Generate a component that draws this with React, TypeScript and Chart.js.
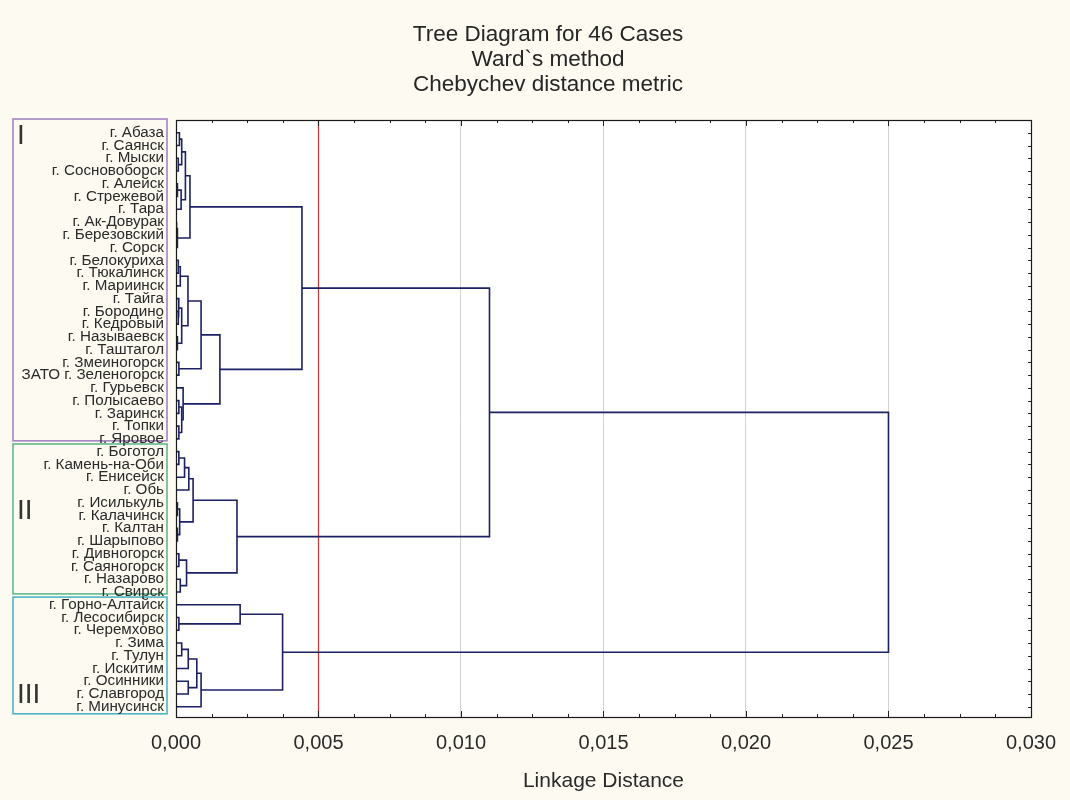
import { useEffect, useRef } from "react";
import { Chart, registerables } from "chart.js";

Chart.register(...registerables);

// ---------------- data ----------------
const chartTitle = ["Tree Diagram for 46 Cases", "Ward`s method", "Chebychev distance metric"];
const axisTitle = "Linkage Distance";

const leafLabels = [
  "г. Абаза", "г. Саянск", "г. Мыски", "г. Сосновоборск", "г. Алейск", "г. Стрежевой",
  "г. Тара", "г. Ак-Довурак", "г. Березовский", "г. Сорск", "г. Белокуриха", "г. Тюкалинск",
  "г. Мариинск", "г. Тайга", "г. Бородино", "г. Кедровый", "г. Называевск", "г. Таштагол",
  "г. Змеиногорск", "ЗАТО г. Зеленогорск", "г. Гурьевск", "г. Полысаево", "г. Заринск",
  "г. Топки", "г. Яровое",
  "г. Боготол", "г. Камень-на-Оби", "г. Енисейск", "г. Обь", "г. Исилькуль", "г. Калачинск",
  "г. Калтан", "г. Шарыпово", "г. Дивногорск", "г. Саяногорск", "г. Назарово", "г. Свирск",
  "г. Горно-Алтайск", "г. Лесосибирск", "г. Черемхово", "г. Зима", "г. Тулун", "г. Искитим",
  "г. Осинники", "г. Славгород", "г. Минусинск",
];

// linkage: node ids < 46 are leaves, id 46+k is merge k
const mergeLeft = [
  0, 2, 46, 4, 49, 48, 7, 52, 51,
  10, 55, 14, 13, 16, 58, 56, 18, 61, 21, 23, 64, 20, 63, 54,
  25, 70, 71, 29, 31, 73, 72, 33, 35, 77, 76, 69,
  38, 37, 40, 84, 43, 85, 87, 83, 81,
];
const mergeRight = [
  1, 3, 47, 5, 6, 50, 8, 9, 53,
  11, 12, 15, 57, 17, 59, 60, 19, 62, 22, 24, 65, 66, 67, 68,
  26, 27, 28, 30, 32, 74, 75, 34, 36, 78, 79, 80,
  39, 82, 41, 42, 44, 86, 45, 88, 89,
];
const mergeHeight = [
  0.00012, 0.00008, 0.0002, 0.00005, 0.00018, 0.00033, 0.00003, 0.00005, 0.00049,
  0.00008, 0.00015, 0.00008, 0.0001, 0.00005, 0.0002, 0.00042, 0.0001, 0.00088, 0.0001, 0.0001, 0.0002, 0.00025, 0.00154, 0.00442,
  0.0001, 0.0003, 0.00045, 0.00005, 0.00005, 0.00013, 0.0006, 0.0001, 0.00015, 0.00037, 0.00214, 0.011,
  0.0001, 0.00225, 0.0002, 0.00043, 0.00043, 0.00073, 0.00088, 0.00374, 0.025,
];

const xTickValues = [0, 0.005, 0.01, 0.015, 0.02, 0.025, 0.03];
const xTickLabels = ["0,000", "0,005", "0,010", "0,015", "0,020", "0,025", "0,030"];
const cutoffDistance = 0.005;

const groupNames = ["I", "II", "III"];
const groupFirst = [0, 25, 37];
const groupLast = [24, 36, 45];

// ---------------- style ----------------
const FONT = "'Liberation Sans', Arial, sans-serif";
const BG = "#fcfaf1";
const LINE = "#1c2163";
const RED = "#c0403f";
const groupColors = ["#a683c2", "#62b98d", "#4cb5c6"];
const numeralPlace = ["top", "middle", "bottom"];
const Y_MIN = -1;
const Y_MAX = 45.8;
const X_MIN = 0;
const X_MAX = 0.03;

// build dendrogram segments from linkage
const nodeY: number[] = leafLabels.map((_, i) => i);
const nodeH: number[] = leafLabels.map(() => 0);
const segments: { x: number; y: number }[][] = [];
mergeLeft.forEach((a, k) => {
  const b = mergeRight[k];
  const h = mergeHeight[k];
  const ya = nodeY[a];
  const yb = nodeY[b];
  segments.push([
    { x: nodeH[a], y: ya },
    { x: h, y: ya },
    { x: h, y: yb },
    { x: nodeH[b], y: yb },
  ]);
  nodeY.push((ya + yb) / 2);
  nodeH.push(h);
});

const decorPlugin = {
  id: "decor",
  beforeDraw(chart: any) {
    const { ctx, chartArea: ca, scales } = chart;
    const ys = scales.y;
    ctx.save();
    ctx.fillStyle = BG;
    ctx.fillRect(0, 0, chart.width, chart.height);
    ctx.fillStyle = "#ffffff";
    ctx.fillRect(ca.left, ca.top, ca.right - ca.left, ca.bottom - ca.top);

    // chart title
    ctx.fillStyle = "#262626";
    ctx.font = `22.5px ${FONT}`;
    ctx.textAlign = "center";
    ctx.textBaseline = "middle";
    chartTitle.forEach((line, i) => {
      ctx.fillText(line, 548, 35 + i * 25);
    });

    // group boxes
    const n = leafLabels.length;
    groupNames.forEach((name, g) => {
      const first = groupFirst[g];
      const last = groupLast[g];
      const top = first === 0 ? ca.top - 1 : ys.getPixelForValue(first - 0.6);
      const bottom = last === n - 1 ? ys.getPixelForValue(last + 0.55) : ys.getPixelForValue(last + 0.15);
      const left = 13;
      const right = 167;
      ctx.strokeStyle = groupColors[g];
      ctx.lineWidth = 1.6;
      ctx.strokeRect(left, top, right - left, bottom - top);
      ctx.fillStyle = "#333333";
      ctx.font = `28px ${FONT}`;
      ctx.textAlign = "left";
      ctx.textBaseline = "alphabetic";
      let base: number;
      if (numeralPlace[g] === "top") base = top + 25;
      else if (numeralPlace[g] === "bottom") base = bottom - 11;
      else base = (top + bottom) / 2;
      ctx.fillText(name, 17, base);
    });
    ctx.restore();
  },
  afterDatasetsDraw(chart: any) {
    const { ctx, chartArea: ca, scales } = chart;
    const xs = scales.x;
    const ys = scales.y;
    ctx.save();
    ctx.strokeStyle = "#222222";
    ctx.lineWidth = 1;
    // inward tick marks on top and bottom
    const step = (xTickValues[1] - xTickValues[0]) / 4;
    for (let i = 0; i * step <= X_MAX + 1e-9; i++) {
      const px = Math.round(xs.getPixelForValue(i * step)) + 0.5;
      const len = i % 4 === 0 ? 6 : 3;
      ctx.beginPath();
      ctx.moveTo(px, ca.bottom);
      ctx.lineTo(px, ca.bottom - len);
      ctx.moveTo(px, ca.top);
      ctx.lineTo(px, ca.top + len);
      ctx.stroke();
    }
    // right-side ticks at leaves
    leafLabels.forEach((_, i) => {
      const py = Math.round(ys.getPixelForValue(i)) + 0.5;
      ctx.beginPath();
      ctx.moveTo(ca.right, py);
      ctx.lineTo(ca.right - 3, py);
      ctx.stroke();
    });
    // frame
    ctx.lineWidth = 1.2;
    ctx.strokeStyle = "#1a1a1a";
    ctx.strokeRect(Math.round(ca.left) + 0.5, Math.round(ca.top) + 0.5, Math.round(ca.right - ca.left), Math.round(ca.bottom - ca.top));
    ctx.restore();
  },
};

export default function App() {
  const canvasRef = useRef<HTMLCanvasElement | null>(null);

  useEffect(() => {
    document.body.style.margin = "0";
    document.body.style.background = BG;
    const canvas = canvasRef.current;
    if (!canvas) return;

    const datasets: any[] = segments.map((seg) => ({
      data: seg,
      showLine: true,
      borderColor: LINE,
      borderWidth: 1.6,
      pointRadius: 0,
      pointHoverRadius: 0,
      fill: false,
      tension: 0,
    }));
    datasets.push({
      data: [
        { x: cutoffDistance, y: Y_MIN },
        { x: cutoffDistance, y: Y_MAX },
      ],
      showLine: true,
      borderColor: RED,
      borderWidth: 1.3,
      pointRadius: 0,
      fill: false,
    });

    const chart = new Chart(canvas, {
      type: "scatter",
      data: { datasets },
      plugins: [decorPlugin],
      options: {
        animation: false,
        responsive: false,
        devicePixelRatio: 1,
        events: [],
        layout: { padding: { left: 4, right: 39, top: 120, bottom: 0 } },
        plugins: {
          legend: { display: false },
          tooltip: { enabled: false },
          title: { display: false },
        },
        scales: {
          x: {
            type: "linear",
            min: X_MIN,
            max: X_MAX,
            afterBuildTicks: (scale: any) => {
              scale.ticks = xTickValues.map((v) => ({ value: v }));
            },
            afterFit: (scale: any) => {
              scale.height = 83;
            },
            ticks: {
              autoSkip: false,
              maxRotation: 0,
              padding: 14,
              color: "#2a2a2a",
              font: { family: FONT, size: 20 },
              callback: (_v: any, i: number) => xTickLabels[i],
            },
            grid: {
              drawTicks: false,
              color: (ctx: any) => {
                const v = ctx.tick ? ctx.tick.value : 0;
                if (v <= cutoffDistance + 1e-9 || v >= X_MAX - 1e-9) return "rgba(0,0,0,0)";
                return "#d2d2d2";
              },
              lineWidth: 1,
            },
            border: { display: false },
            title: {
              display: true,
              text: axisTitle,
              color: "#2a2a2a",
              font: { family: FONT, size: 21 },
              padding: { top: 0, bottom: 6 },
            },
          },
          y: {
            type: "linear",
            reverse: true,
            min: Y_MIN,
            max: Y_MAX,
            afterBuildTicks: (scale: any) => {
              scale.ticks = leafLabels.map((_, i) => ({ value: i }));
            },
            afterFit: (scale: any) => {
              scale.width = 172;
            },
            ticks: {
              autoSkip: false,
              padding: 12,
              color: "#2a2a2a",
              font: { family: FONT, size: 15.2 },
              callback: (v: any) => leafLabels[v] ?? "",
            },
            grid: { display: false, drawTicks: false },
            border: { display: false },
          },
        },
      } as any,
    });

    return () => chart.destroy();
  }, []);

  return (
    <div style={{ width: 1070, height: 800, background: BG }}>
      <canvas ref={canvasRef} width={1070} height={800} style={{ display: "block" }} />
    </div>
  );
}
